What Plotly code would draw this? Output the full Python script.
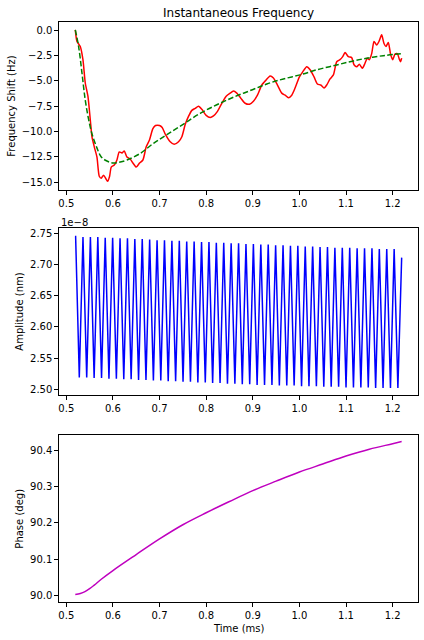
import plotly.graph_objects as go

# ---------------- data ----------------
# Instantaneous frequency (red) : time (ms), shift (Hz)
freq_time = [0.5193, 0.5229, 0.530, 0.5357, 0.5407, 0.5464, 0.5514, 0.555, 0.560, 0.5657,
             0.5707, 0.575, 0.580, 0.5843, 0.5886, 0.5929, 0.5964, 0.6029, 0.6086, 0.6136,
             0.6193, 0.6243, 0.630, 0.6371, 0.6429, 0.650, 0.6571, 0.6643, 0.6714, 0.6786,
             0.6857, 0.6914, 0.700, 0.7057, 0.7129, 0.7229, 0.7314, 0.7407, 0.7479, 0.755,
             0.7621, 0.7693, 0.7764, 0.7836, 0.7907, 0.800, 0.8086, 0.8157, 0.8243, 0.8336,
             0.8429, 0.8514, 0.8586, 0.8657, 0.8743, 0.8836, 0.8929, 0.9014, 0.910, 0.9193,
             0.9286, 0.9371, 0.9443, 0.9529, 0.9621, 0.9693, 0.9764, 0.9836, 0.9907, 1.000,
             1.0071, 1.0157, 1.0229, 1.0314, 1.0386, 1.0457, 1.0529, 1.0586, 1.0657, 1.0729,
             1.080, 1.0871, 1.0929, 1.0979, 1.105, 1.1121, 1.1171, 1.1229, 1.1286, 1.135,
             1.1407, 1.1457, 1.150, 1.155, 1.160, 1.1657, 1.1707, 1.1764, 1.1814, 1.1857,
             1.1907, 1.1957, 1.200, 1.205, 1.210, 1.2143, 1.2171, 1.2193]
freq_shift = [0.05, -1.1, -1.6, -2.9, -5.2, -6.5, -8.8, -10.5, -11.5, -12.5,
              -14.4, -14.6, -14.3, -14.6, -14.9, -14.4, -13.5, -13.3, -12.8, -12.0,
              -12.1, -11.9, -12.5, -12.7, -13.1, -13.5, -13.1, -12.8, -11.5, -10.8,
              -9.7, -9.4, -9.4, -9.6, -10.3, -11.0, -11.25, -11.0, -10.5, -9.3,
              -8.5, -7.9, -7.7, -7.5, -7.8, -8.4, -8.6, -8.45, -8.0, -7.2,
              -6.5, -6.2, -6.0, -6.2, -6.7, -7.2, -7.3, -7.0, -6.4, -5.4,
              -4.9, -4.5, -4.7, -5.4, -6.2, -6.4, -6.65, -6.4, -5.7, -4.6,
              -4.1, -3.6, -3.9, -4.6, -5.3, -5.4, -5.7, -5.4, -4.8, -4.4,
              -3.1, -2.9, -2.6, -2.2, -2.6, -2.7, -3.4, -3.6, -3.35, -3.75,
              -3.25, -2.75, -2.9, -2.3, -1.1, -1.45, -1.1, -0.45, -1.3, -1.6,
              -1.2, -2.4, -2.9, -2.35, -2.3, -2.85, -3.1, -2.75]

# Fitted trend (green dashed)
fit_time = [0.5193, 0.5264, 0.5336, 0.5407, 0.5479, 0.555, 0.5657, 0.575, 0.5871, 0.6014,
            0.6157, 0.630, 0.6586, 0.6871, 0.7157, 0.7514, 0.7871, 0.8229, 0.8586, 0.8943,
            0.930, 0.9657, 1.0014, 1.0371, 1.0729, 1.1086, 1.1443, 1.180, 1.2193]
fit_shift = [0.05, -1.6, -4.2, -6.9, -8.8, -10.2, -11.6, -12.5, -12.9, -13.1,
             -13.0, -12.8, -12.15, -11.15, -10.3, -9.25, -8.2, -7.35, -6.6, -5.95,
             -5.3, -4.8, -4.4, -3.9, -3.5, -3.1, -2.75, -2.5, -2.3]

# Amplitude (units of 1e-8 nm): sampled extrema
amp_start_time = [0.5186, 0.5200]
amp_start_value = [2.745, 2.745]
trough_time = [0.5279, 0.5438, 0.5597, 0.5756, 0.5915, 0.6074, 0.6233, 0.6391, 0.6550, 0.6709,
               0.6868, 0.7027, 0.7186, 0.7345, 0.7504, 0.7663, 0.7822, 0.7981, 0.8139, 0.8298,
               0.8457, 0.8616, 0.8775, 0.8934, 0.9093, 0.9252, 0.9411, 0.9570, 0.9729, 0.9887,
               1.0046, 1.0205, 1.0364, 1.0523, 1.0682, 1.0841, 1.1000, 1.1159, 1.1318, 1.1477,
               1.1635, 1.1794, 1.1953, 1.2112]
trough_value = [2.519, 2.519, 2.518, 2.518, 2.517, 2.517, 2.516, 2.516, 2.515, 2.515,
                2.514, 2.514, 2.513, 2.513, 2.512, 2.512, 2.511, 2.511, 2.510, 2.510,
                2.509, 2.509, 2.508, 2.508, 2.507, 2.507, 2.507, 2.506, 2.506, 2.506,
                2.505, 2.505, 2.505, 2.504, 2.504, 2.504, 2.503, 2.503, 2.503, 2.503,
                2.502, 2.502, 2.502, 2.502]
peak_time = [0.5358, 0.5517, 0.5676, 0.5835, 0.5994, 0.6153, 0.6312, 0.6470, 0.6629, 0.6788,
             0.6947, 0.7106, 0.7265, 0.7424, 0.7583, 0.7742, 0.7901, 0.8060, 0.8218, 0.8377,
             0.8536, 0.8695, 0.8854, 0.9013, 0.9172, 0.9331, 0.9490, 0.9649, 0.9808, 0.9966,
             1.0125, 1.0284, 1.0443, 1.0602, 1.0761, 1.0920, 1.1079, 1.1238, 1.1397, 1.1556,
             1.1714, 1.1873, 1.2032]
peak_value = [2.744, 2.744, 2.744, 2.743, 2.743, 2.742, 2.742, 2.741, 2.741, 2.740,
              2.739, 2.739, 2.738, 2.738, 2.737, 2.737, 2.736, 2.736, 2.735, 2.735,
              2.734, 2.734, 2.733, 2.733, 2.732, 2.732, 2.731, 2.731, 2.730, 2.730,
              2.729, 2.729, 2.728, 2.728, 2.727, 2.727, 2.727, 2.726, 2.726, 2.726,
              2.725, 2.725, 2.725]
amp_end_time = [1.2193]
amp_end_value = [2.711]

# Phase (deg)
phase_time = [0.5193, 0.530, 0.540, 0.550, 0.560, 0.575, 0.600, 0.650, 0.700, 0.750,
              0.800, 0.850, 0.900, 0.950, 1.000, 1.050, 1.100, 1.150, 1.200, 1.2193]
phase_deg = [90.003, 90.006, 90.011, 90.019, 90.029, 90.045, 90.069, 90.113, 90.156, 90.195,
             90.228, 90.259, 90.289, 90.315, 90.340, 90.362, 90.384, 90.403, 90.418, 90.424]

x_ticks = [0.5, 0.6, 0.7, 0.8, 0.9, 1.0, 1.1, 1.2]
freq_ticks = [0.0, -2.5, -5.0, -7.5, -10.0, -12.5, -15.0]
amp_ticks = [2.50, 2.55, 2.60, 2.65, 2.70, 2.75]
phase_ticks = [90.0, 90.1, 90.2, 90.3, 90.4]

# build amplitude sequence (interleave troughs and peaks)
amp_t = list(amp_start_time)
amp_v = list(amp_start_value)
for i in range(len(trough_time)):
    amp_t.append(trough_time[i]); amp_v.append(trough_value[i])
    if i < len(peak_time):
        amp_t.append(peak_time[i]); amp_v.append(peak_value[i])
amp_t += amp_end_time
amp_v += amp_end_value

# ---------------- figure ----------------
W, H = 424, 640
def fx(px):
    return px / W
def fy(py):
    return 1 - py / H

xdom = [fx(59.3), fx(418.3)]
doms = {
    1: [fy(190.0), fy(22.3)],
    2: [fy(395.0), fy(228.3)],
    3: [fy(602.3), fy(435.0)],
}

font = dict(family="DejaVu Sans", size=10, color="black")
fig = go.Figure()

fig.add_trace(go.Scatter(x=freq_time, y=freq_shift, mode="lines",
                         line=dict(color="#ff0000", width=1.5, shape="spline", smoothing=0.6),
                         xaxis="x", yaxis="y"))
fig.add_trace(go.Scatter(x=fit_time, y=fit_shift, mode="lines",
                         line=dict(color="#008000", width=1.5, dash="5.5px,2.4px", shape="spline"),
                         xaxis="x", yaxis="y"))
fig.add_trace(go.Scatter(x=amp_t, y=amp_v, mode="lines",
                         line=dict(color="#0000ff", width=1.5), xaxis="x2", yaxis="y2"))
fig.add_trace(go.Scatter(x=phase_time, y=phase_deg, mode="lines",
                         line=dict(color="#bf00bf", width=1.5, shape="spline"),
                         xaxis="x3", yaxis="y3"))

axis_common = dict(showline=True, mirror=True, linecolor="black", linewidth=1,
                   ticks="outside", ticklen=4, tickwidth=1, tickcolor="black",
                   showgrid=False, zeroline=False, tickfont=font)

xrange_ = [0.485, 1.255]
for i, (yr, yt, yfmt) in enumerate([([-15.76, 0.79], freq_ticks, ".1f"),
                                    ([2.4909, 2.758], amp_ticks, ".2f"),
                                    ([89.9816, 90.442], phase_ticks, ".1f")], start=1):
    sx = "" if i == 1 else str(i)
    fig.layout["xaxis" + sx] = dict(domain=xdom, range=xrange_, tickvals=x_ticks,
                                    tickformat=".1f", anchor="y" + sx, **axis_common)
    fig.layout["yaxis" + sx] = dict(domain=doms[i], range=yr, tickvals=yt,
                                    tickformat=yfmt, anchor="x" + sx, **axis_common)

ann = []
ann.append(dict(text="Instantaneous Frequency", x=fx(238.8), y=fy(12.7), xref="paper", yref="paper",
                showarrow=False, font=dict(family="DejaVu Sans", size=12, color="black"),
                xanchor="center", yanchor="middle"))
ann.append(dict(text="Frequency Shift (Hz)", x=fx(11.5), y=(doms[1][0] + doms[1][1]) / 2,
                xref="paper", yref="paper", showarrow=False, textangle=-90, font=font,
                xanchor="center", yanchor="middle"))
ann.append(dict(text="Amplitude (nm)", x=fx(20), y=(doms[2][0] + doms[2][1]) / 2,
                xref="paper", yref="paper", showarrow=False, textangle=-90, font=font,
                xanchor="center", yanchor="middle"))
ann.append(dict(text="Phase (deg)", x=fx(20), y=(doms[3][0] + doms[3][1]) / 2,
                xref="paper", yref="paper", showarrow=False, textangle=-90, font=font,
                xanchor="center", yanchor="middle"))
ann.append(dict(text="Time (ms)", x=fx(238.8), y=fy(628), xref="paper", yref="paper",
                showarrow=False, font=font, xanchor="center", yanchor="middle"))
ann.append(dict(text="1e\u22128", x=fx(58.5), y=fy(222.7), xref="paper", yref="paper",
                showarrow=False, font=font, xanchor="left", yanchor="middle"))

fig.update_layout(width=W, height=H, margin=dict(l=0, r=0, t=0, b=0),
                  paper_bgcolor="white", plot_bgcolor="white", showlegend=False,
                  annotations=ann, font=font)

fig.write_html("out.html")
